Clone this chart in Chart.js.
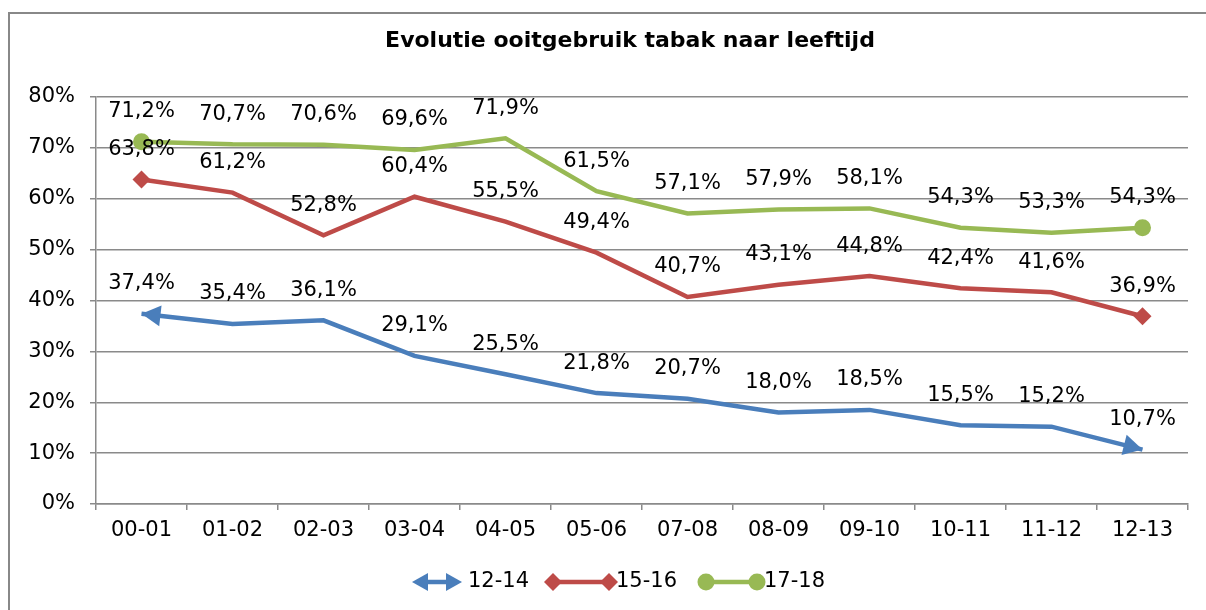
<!DOCTYPE html>
<html>
<head>
<meta charset="utf-8">
<script src="https://cdn.jsdelivr.net/npm/chart.js@4.4.1/dist/chart.umd.min.js"></script>
<style>
html,body{margin:0;padding:0;background:#fff;}
#wrap{width:1206px;height:610px;position:relative;}
</style>
</head>
<body>
<div id="wrap"><canvas id="c" width="1206" height="610"></canvas></div>
<script>
const chartTitle = 'Evolutie ooitgebruik tabak naar leeftijd';
const categories = ['00-01','01-02','02-03','03-04','04-05','05-06','07-08','08-09','09-10','10-11','11-12','12-13'];
const seriesNames = ['12-14','15-16','17-18'];
const values1214 = [37.4,35.4,36.1,29.1,25.5,21.8,20.7,18.0,18.5,15.5,15.2,10.7];
const values1516 = [63.8,61.2,52.8,60.4,55.5,49.4,40.7,43.1,44.8,42.4,41.6,36.9];
const values1718 = [71.2,70.7,70.6,69.6,71.9,61.5,57.1,57.9,58.1,54.3,53.3,54.3];
const yTickValues = [0,10,20,30,40,50,60,70,80];

const BLUE = '#4a7ebb', RED = '#be4b48', GREEN = '#98b954';
const FONT = '"DejaVu Sans", Verdana, sans-serif';
const GRID = '#8a8a8a';

function endOnly(n, r){ return Array.from({length:n},(_,i)=> (i===0||i===n-1)? r : 0); }

function fmt(v){ return v.toFixed(1).replace('.', ',') + '%'; }

function drawArrow(ctx, tipX, tipY, fromX, fromY, len, half, color){
  const ang = Math.atan2(tipY-fromY, tipX-fromX);
  ctx.save();
  ctx.translate(tipX, tipY);
  ctx.rotate(ang);
  ctx.fillStyle = color;
  ctx.beginPath();
  ctx.moveTo(0,0);
  ctx.lineTo(-len, -half);
  ctx.lineTo(-len, half);
  ctx.closePath();
  ctx.fill();
  ctx.restore();
}

const framePlugin = {
  id:'frame',
  beforeDraw(chart){
    const ctx = chart.ctx;
    ctx.save();
    ctx.fillStyle = '#fff';
    ctx.fillRect(0,0,chart.width,chart.height);
    ctx.strokeStyle = '#888';
    ctx.lineWidth = 2;
    ctx.beginPath();
    ctx.moveTo(9, chart.height+2);
    ctx.lineTo(9, 13);
    ctx.lineTo(chart.width+2, 13);
    ctx.stroke();
    ctx.fillStyle = '#000';
    ctx.font = 'bold 22px ' + FONT;
    ctx.textAlign = 'center';
    ctx.textBaseline = 'middle';
    ctx.fillText(chartTitle, 630, 41);
    ctx.restore();
  }
};

const decorPlugin = {
  id:'decor',
  afterDatasetsDraw(chart){
    const ctx = chart.ctx;
    const m0 = chart.getDatasetMeta(0).data;
    const n = m0.length;
    drawArrow(ctx, m0[0].x, m0[0].y, m0[1].x, m0[1].y, 19, 10.5, BLUE);
    drawArrow(ctx, m0[n-1].x, m0[n-1].y, m0[n-2].x, m0[n-2].y, 19, 10.5, BLUE);
    ctx.save();
    ctx.fillStyle = '#000';
    ctx.font = '21px ' + FONT;
    ctx.textAlign = 'center';
    ctx.textBaseline = 'middle';
    chart.data.datasets.forEach((ds, di)=>{
      const meta = chart.getDatasetMeta(di);
      meta.data.forEach((pt, i)=>{
        ctx.fillText(fmt(ds.data[i]), pt.x, pt.y - 30);
      });
    });
    ctx.restore();
  },
  afterDraw(chart){
    const ctx = chart.ctx;
    const y = 582;
    ctx.save();
    ctx.strokeStyle = BLUE; ctx.lineWidth = 4.5;
    ctx.beginPath(); ctx.moveTo(424,y); ctx.lineTo(450,y); ctx.stroke();
    drawArrow(ctx, 412, y, 440, y, 16, 9, BLUE);
    drawArrow(ctx, 462, y, 430, y, 16, 9, BLUE);
    ctx.strokeStyle = RED;
    ctx.beginPath(); ctx.moveTo(553,y); ctx.lineTo(609,y); ctx.stroke();
    ctx.fillStyle = RED;
    [553,609].forEach(x=>{
      ctx.beginPath(); ctx.moveTo(x, y-9); ctx.lineTo(x+9,y); ctx.lineTo(x,y+9); ctx.lineTo(x-9,y); ctx.closePath(); ctx.fill();
    });
    ctx.strokeStyle = GREEN;
    ctx.beginPath(); ctx.moveTo(706,y); ctx.lineTo(757,y); ctx.stroke();
    ctx.fillStyle = GREEN;
    [706,757].forEach(x=>{ ctx.beginPath(); ctx.arc(x,y,8.5,0,Math.PI*2); ctx.fill(); });
    ctx.fillStyle = '#000';
    ctx.font = '21px ' + FONT;
    ctx.textAlign = 'left';
    ctx.textBaseline = 'middle';
    ctx.fillText(seriesNames[0], 468, y);
    ctx.fillText(seriesNames[1], 616, y);
    ctx.fillText(seriesNames[2], 764, y);
    ctx.restore();
  }
};

new Chart(document.getElementById('c'), {
  type:'line',
  data:{
    labels: categories,
    datasets:[
      {label:seriesNames[0], data:values1214, borderColor:BLUE, backgroundColor:BLUE, borderWidth:4.5,
       pointRadius:0, pointHoverRadius:0, tension:0, fill:false},
      {label:seriesNames[1], data:values1516, borderColor:RED, backgroundColor:RED, borderWidth:4.5,
       pointStyle:'rectRot', pointRadius:endOnly(values1516.length, 9), pointBorderWidth:0, pointHoverRadius:0, tension:0, fill:false},
      {label:seriesNames[2], data:values1718, borderColor:GREEN, backgroundColor:GREEN, borderWidth:4.5,
       pointStyle:'circle', pointRadius:endOnly(values1718.length, 8.5), pointBorderWidth:0, pointHoverRadius:0, tension:0, fill:false}
    ]
  },
  options:{
    responsive:false,
    animation:false,
    events:[],
    layout:{padding:{top:97, right:18, left:0, bottom:0}},
    plugins:{legend:{display:false}, title:{display:false}, tooltip:{enabled:false}},
    scales:{
      x:{
        offset:true,
        afterFit(s){ s.height = 106; },
        grid:{display:true, offset:true, drawOnChartArea:false, drawTicks:true, tickLength:6, color:GRID, lineWidth:1.5},
        border:{display:true, color:GRID, width:1.5},
        ticks:{color:'#000', font:{family:FONT, size:21}, padding:8, maxRotation:0, autoSkip:false}
      },
      y:{
        min:0, max:80,
        afterFit(s){ s.width = 96; },
        afterBuildTicks(s){ s.ticks = yTickValues.map(v=>({value:v})); },
        grid:{color:GRID, lineWidth:1.5, tickLength:6, drawTicks:true},
        border:{display:true, color:GRID, width:1.5},
        ticks:{color:'#000', font:{family:FONT, size:21}, padding:15, callback:(v)=> v + '%'}
      }
    }
  },
  plugins:[framePlugin, decorPlugin]
});
</script>
</body>
</html>
